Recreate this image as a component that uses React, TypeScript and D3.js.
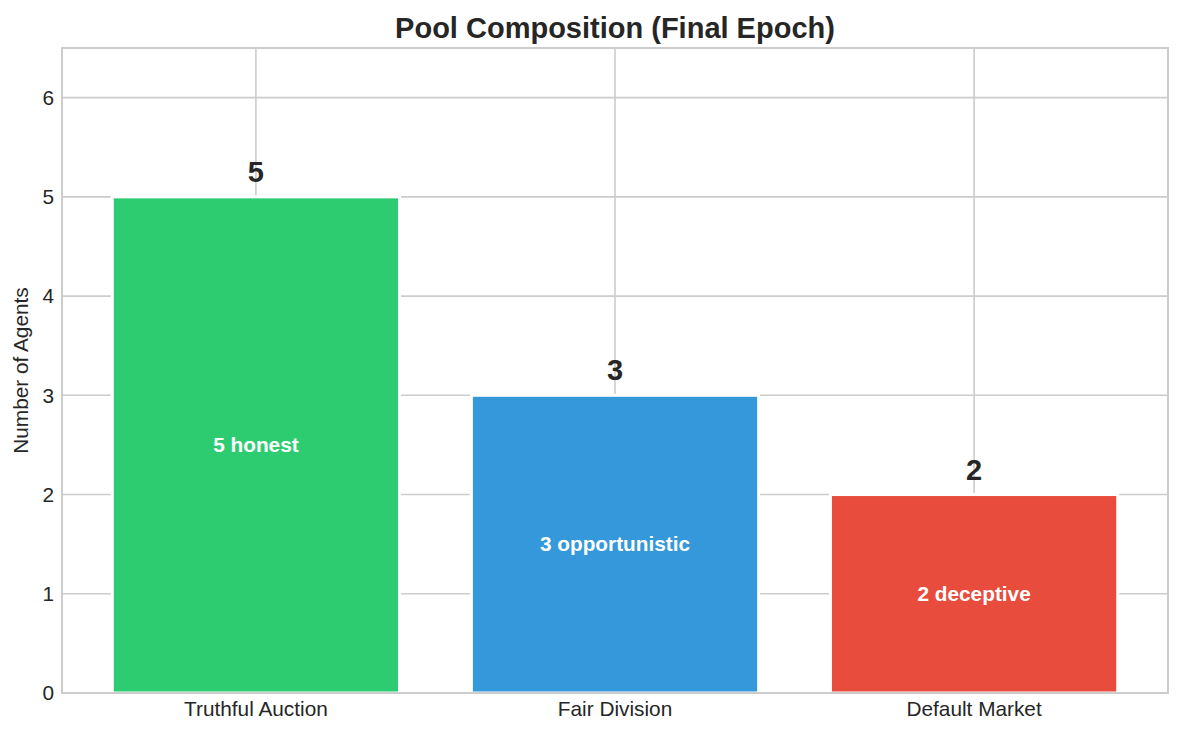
import React, { useRef, useEffect } from 'react';
import * as d3 from 'd3';

const categories = ['Truthful Auction', 'Fair Division', 'Default Market'];
const counts = [5, 3, 2];
const innerLabels = ['5 honest', '3 opportunistic', '2 deceptive'];
const barColors = ['#2ecc71', '#3498db', '#e74c3c'];
const yTicks = [0, 1, 2, 3, 4, 5, 6];

const FONT = '"Liberation Sans", Arial, Helvetica, sans-serif';
const INK = '#262626';
const GRID = '#cccccc';

const PoolChart: React.FC<{ width?: number; height?: number }> = ({ width = 1184, height = 735 }) => {
  const svgRef = useRef<SVGSVGElement>(null);

  useEffect(() => {
    if (!svgRef.current) return;
    const svg = d3.select(svgRef.current);
    svg.selectAll('*').remove();

    const margin = { top: 48, right: 16, bottom: 42, left: 62 };
    const w = width - margin.left - margin.right;
    const h = height - margin.top - margin.bottom;

    const g = svg.append('g').attr('transform', `translate(${margin.left},${margin.top})`);

    // matplotlib-style bar layout: positions 0..n-1, width 0.8, 5% margins
    const barW = 0.8;
    const span = categories.length - 1 + barW;
    const pad = span * 0.05;
    const x = d3.scaleLinear()
      .domain([-barW / 2 - pad, categories.length - 1 + barW / 2 + pad])
      .range([0, w]);
    const y = d3.scaleLinear().domain([0, 6.5]).range([h, 0]);

    // grid
    yTicks.forEach(t => {
      g.append('line')
        .attr('x1', 0).attr('x2', w)
        .attr('y1', y(t)).attr('y2', y(t))
        .attr('stroke', GRID).attr('stroke-width', 1.6);
    });
    categories.forEach((_, i) => {
      g.append('line')
        .attr('x1', x(i)).attr('x2', x(i))
        .attr('y1', 0).attr('y2', h)
        .attr('stroke', GRID).attr('stroke-width', 1.6);
    });

    // bars
    counts.forEach((v, i) => {
      g.append('rect')
        .attr('x', x(i - barW / 2))
        .attr('y', y(v))
        .attr('width', x(i + barW / 2) - x(i - barW / 2))
        .attr('height', y(0) - y(v))
        .attr('fill', barColors[i])
        .attr('stroke', '#ffffff')
        .attr('stroke-width', 3);

      // value on top
      g.append('text')
        .attr('x', x(i))
        .attr('y', y(v) - 15)
        .attr('text-anchor', 'middle')
        .attr('font-family', FONT)
        .attr('font-size', '29px')
        .attr('font-weight', 700)
        .attr('fill', INK)
        .text(String(v));

      // composition inside
      g.append('text')
        .attr('x', x(i))
        .attr('y', y(v / 2))
        .attr('dy', '0.35em')
        .attr('text-anchor', 'middle')
        .attr('font-family', FONT)
        .attr('font-size', '20.8px')
        .attr('font-weight', 700)
        .attr('fill', '#ffffff')
        .text(innerLabels[i]);
    });

    // spines
    g.append('rect')
      .attr('x', 0).attr('y', 0)
      .attr('width', w).attr('height', h)
      .attr('fill', 'none')
      .attr('stroke', GRID)
      .attr('stroke-width', 2);

    // x tick labels
    categories.forEach((c, i) => {
      g.append('text')
        .attr('x', x(i))
        .attr('y', h + 23)
        .attr('text-anchor', 'middle')
        .attr('font-family', FONT)
        .attr('font-size', '20.8px')
        .attr('fill', INK)
        .text(c);
    });

    // y tick labels
    yTicks.forEach(t => {
      g.append('text')
        .attr('x', -8)
        .attr('y', y(t))
        .attr('dy', '0.35em')
        .attr('text-anchor', 'end')
        .attr('font-family', FONT)
        .attr('font-size', '20.8px')
        .attr('fill', INK)
        .text(String(t));
    });

    // y label
    g.append('text')
      .attr('transform', 'rotate(-90)')
      .attr('x', -h / 2)
      .attr('y', -34)
      .attr('text-anchor', 'middle')
      .attr('font-family', FONT)
      .attr('font-size', '20.8px')
      .attr('fill', INK)
      .text('Number of Agents');

    // title
    svg.append('text')
      .attr('x', margin.left + w / 2)
      .attr('y', 38)
      .attr('text-anchor', 'middle')
      .attr('font-family', FONT)
      .attr('font-size', '29px')
      .attr('font-weight', 700)
      .attr('fill', INK)
      .text('Pool Composition (Final Epoch)');
  }, [width, height]);

  return (
    <svg
      ref={svgRef}
      width={width}
      height={height}
      style={{ position: 'absolute', left: 0, top: 0, background: '#ffffff' }}
    />
  );
};

export default function App() {
  return <PoolChart />;
}
